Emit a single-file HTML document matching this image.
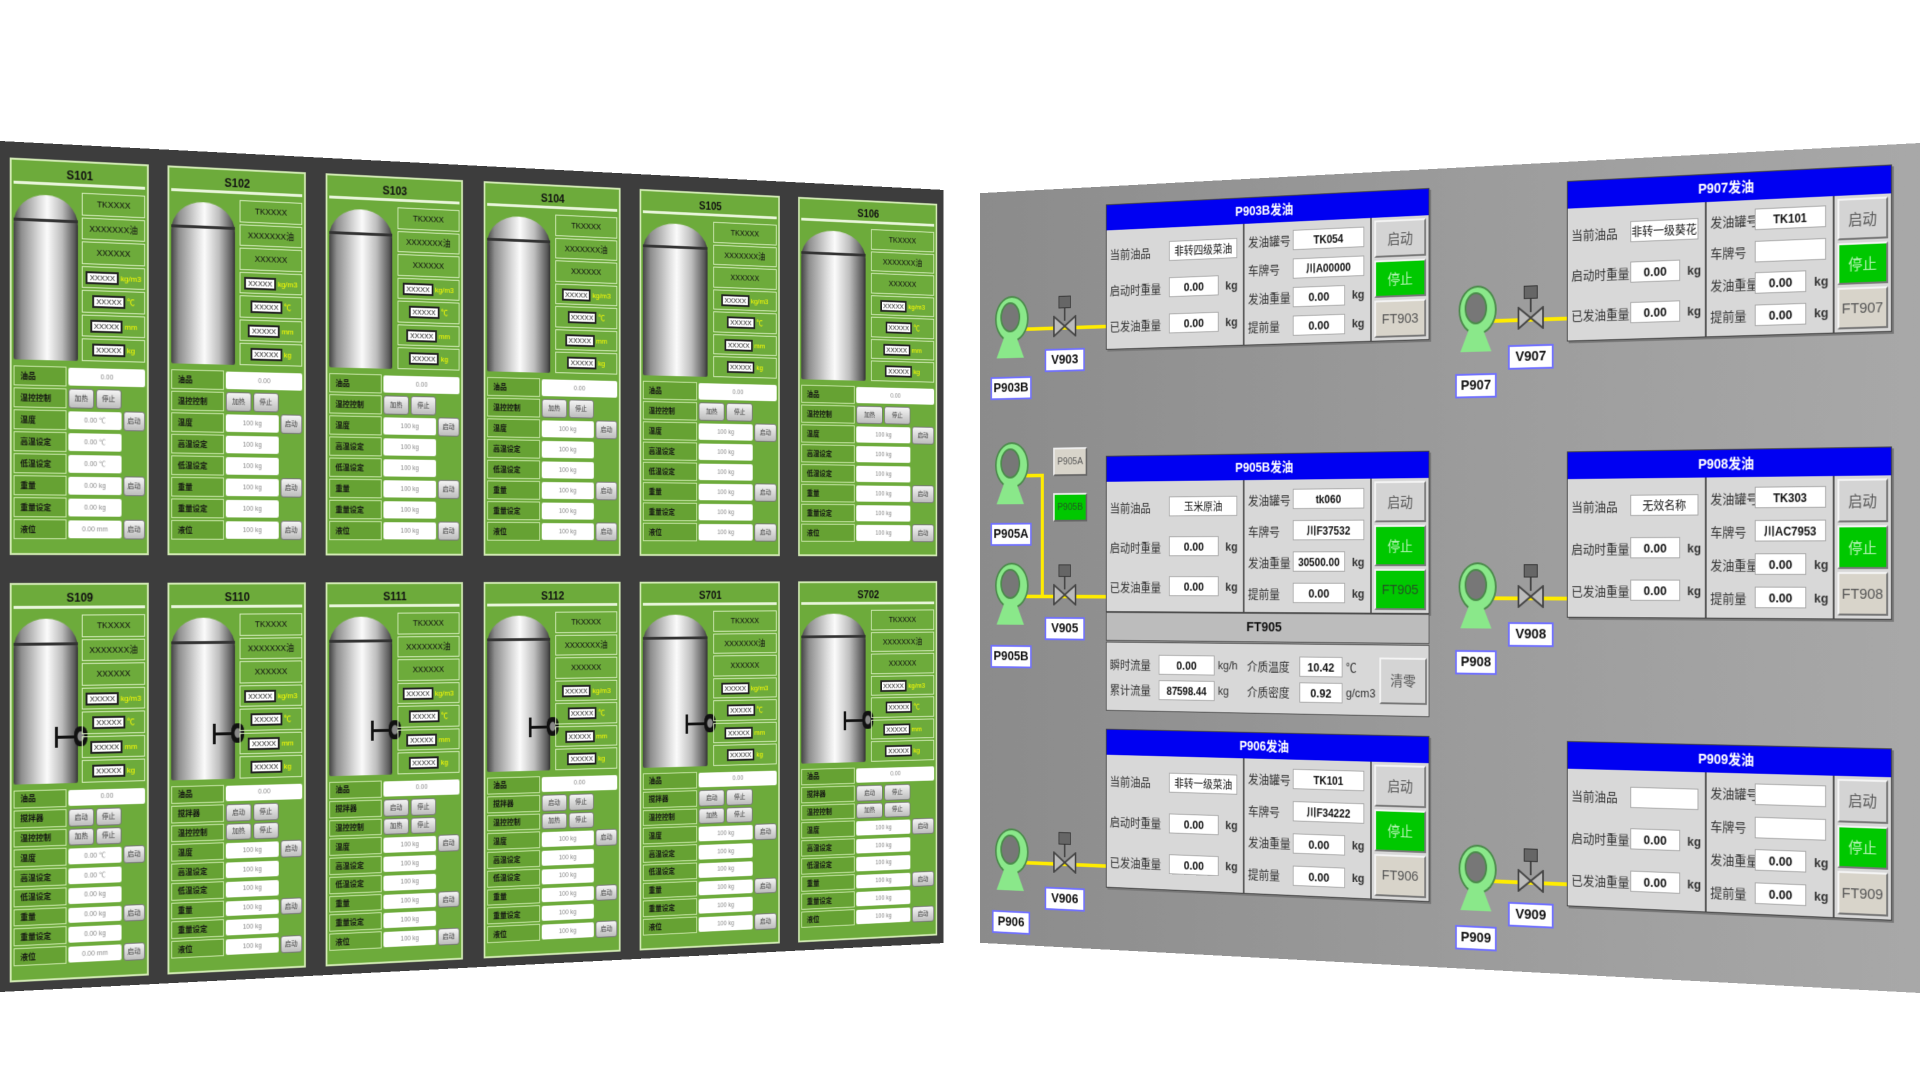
<!DOCTYPE html>
<html><head><meta charset="utf-8">
<style>
*{box-sizing:border-box}
body{margin:0;width:1920px;height:1080px;background:#fff;overflow:hidden;font-family:"Liberation Sans","Noto Sans CJK SC",sans-serif;position:relative}
#L{position:absolute;left:0;top:141px;width:1097px;height:851px;background:#3d3d3d;transform-origin:0 50%;transform:perspective(2000px) rotateY(13.7deg)}
#R{position:absolute;left:821px;top:143px;width:1099px;height:850px;background:linear-gradient(90deg,#8b8b8b,#9a9a9a 50%,#a8a8a8);transform-origin:100% 50%;transform:perspective(2000px) rotateY(-14.1deg)}
.gp{position:absolute;height:398px;background:#6dab3b;border:2px solid #d2eab4}
.gp.b{height:400px}
.tt{position:absolute;left:2px;right:2px;top:2px;height:22px;border-bottom:3px solid #e8f5da;font-weight:bold;font-size:12px;color:#111;text-align:center;line-height:22px}
.up{position:absolute;left:0;right:0;top:28px;height:176px}
.tank{position:absolute;left:2px;top:6px;width:47%;height:166px;border-radius:50% 50% 2px 2px/18% 18% 2px 2px;background:linear-gradient(90deg,#444,#8e8e8e 12%,#dcdcdc 40%,#fbfbfb 52%,#bdbdbd 75%,#5a5a5a 95%,#333)}
.tank:before{content:"";position:absolute;left:0;right:0;top:24px;height:3px;background:#333}
.mx{position:absolute;left:32%;top:124px;width:15%;height:3px;background:#111}
.mx:before{content:"";position:absolute;left:0;top:-9px;width:3px;height:21px;background:#111}
.mx:after{content:"";position:absolute;right:-12px;top:-9px;width:14px;height:20px;border-radius:40%;background:radial-gradient(#888 30%,#111 40%)}
.rc{position:absolute;right:2px;top:2px;width:47%;bottom:2px;display:flex;flex-direction:column}
.rc>div{flex:1;border:1px solid #d6edbd;margin-bottom:2px;font-size:9px;color:#111;display:flex;align-items:center;justify-content:center;white-space:nowrap;overflow:hidden}
.rc span{background:#fff;border:2px solid #222;font-size:8px;padding:0 2px;margin-right:2px}
.rc i{color:#ff0;font-style:normal;font-size:8px}
.lo{position:absolute;left:2px;right:2px;top:206px;bottom:12px;display:flex;flex-direction:column}
.r{flex:1;display:flex;margin-bottom:2px;gap:2px}
.r b{width:40%;background:#66a233;border:1px solid #c9e6a8;font-size:8px;color:#111;display:flex;align-items:center;padding-left:6px;white-space:nowrap;overflow:hidden}
.r u{flex:1;background:#fff;margin:1px 0;border-radius:2px;font-size:7px;color:#888;text-decoration:none;display:flex;align-items:center;justify-content:space-around}
.r u.x{margin-right:0}
.r em{flex:1;display:flex;gap:2px;font-style:normal}
.r em a,.r s.k{background:linear-gradient(#f4f4f4,#bdbdbd);border:1px solid #777;border-radius:3px;font-size:7px;color:#333;display:flex;align-items:center;justify-content:center;text-decoration:none}
.r em a{flex:1}
.r s{width:17%;text-decoration:none}
.blk{position:absolute;background:#d8d8d8;border:1px solid #444;box-shadow:2px 2px 0 #777;font-size:13px;color:#333}
.bt{height:28px;background:#0000f2;color:#fff;font-weight:bold;font-size:14px;text-align:center;line-height:28px}
.bb{display:flex;height:calc(100% - 28px)}
.c1{width:44%;border-right:2px solid #555;padding:6px 4px;display:flex;flex-direction:column;justify-content:space-around}
.c2{width:39%;border-right:2px solid #555;padding:4px 4px;display:flex;flex-direction:column;justify-content:space-around}
.c3{flex:1;display:flex;flex-direction:column;padding:3px;gap:3px}
.blk p{margin:0;display:flex;align-items:center;white-space:nowrap}
.c1 em{width:46%;font-style:normal}
.c2 em{width:38%;font-style:normal}
.f{background:#fff;border:1px solid #aaa;height:22px;line-height:22px;text-align:center;font-weight:bold;color:#111;width:38%;overflow:hidden}
.c2 .f{width:44%}
.f.w{flex:1;font-weight:normal;width:auto;margin-right:3px;font-size:12px}
.c2 .f.w{font-weight:bold}
.blk i{font-style:normal;margin-left:8px;font-weight:bold}
.bn{flex:1;background:#d4d4d4;border:2px solid;border-color:#f4f4f4 #777 #777 #f4f4f4;display:flex;align-items:center;justify-content:center;color:#555;font-size:15px}
.bn.g{background:#00c800;color:#b8f5b8}
.bn.t{background:#d8d4ca}
.fth{position:absolute;background:#bcbcbc;border:1px solid #555;font-weight:bold;font-size:15px;text-align:center;line-height:30px;color:#111}
.ftb{position:absolute;background:#d8d8d8;border:1px solid #555;font-size:13px;color:#333;display:flex;align-items:center;padding:4px}
.ftb .g2{flex:1;display:grid;grid-template-columns:62px 74px 36px 64px 56px 40px;row-gap:6px;align-items:center}
.ftb .f{width:auto;margin-right:4px}
.ftb .bn{flex:0 0 56px;height:50px}
.pump{position:absolute;width:40px;height:72px}
.pump:before{content:"";position:absolute;left:0;top:0;width:40px;height:48px;border-radius:50%;background:#8ae88a;border:2px solid #4a8a4a}
.pump .c{position:absolute;left:7px;top:7px;width:26px;height:34px;border-radius:50%;background:#777;border:2px solid #4a8a4a;z-index:1}
.pump:after{content:"";position:absolute;left:2px;top:44px;width:36px;height:26px;background:#8ae88a;clip-path:polygon(30% 0,70% 0,100% 100%,0 100%)}
.lab{position:absolute;height:26px;background:#fff;border:2px solid #7070ff;font-weight:bold;font-size:15px;color:#111;text-align:center;line-height:22px;width:52px}
.pipe{position:absolute;background:#ffec00;height:4px}
.vpipe{position:absolute;background:#ffec00;width:4px}
.valve{position:absolute;width:30px;height:46px}
.valve .a{position:absolute;left:7px;top:0;width:16px;height:14px;background:#666;border:1px solid #333}
.valve .s{position:absolute;left:14px;top:14px;width:2px;height:14px;background:#444}
.valve svg{position:absolute;left:0;top:22px}
.sel{position:absolute;width:44px;height:32px;border:2px solid;border-color:#eee #666 #666 #eee;font-size:11px;color:#555;display:flex;align-items:center;justify-content:center;background:#d8d4ca}
.sel.g{background:#00c800;color:#225522}
</style></head><body>

<div id="L">
<div class="gp" style="left:10px;top:16px;width:146px"><div class="tt">S101</div><div class="up"><div class="tank"></div><div class="rc"><div>TKXXXX</div><div>XXXXXXX油</div><div>XXXXXX</div><div><span>XXXXX</span><i>kg/m3</i></div><div><span>XXXXX</span><i>℃</i></div><div><span>XXXXX</span><i>mm</i></div><div><span>XXXXX</span><i>kg</i></div></div></div><div class="lo"><div class="r"><b>油品</b><u class="x">0.00</u></div><div class="r"><b>温控控制</b><em><a>加热</a><a>停止</a></em><s></s></div><div class="r"><b>温度</b><u>0.00 ℃</u><s class="k">启动</s></div><div class="r"><b>高温设定</b><u>0.00 ℃</u><s></s></div><div class="r"><b>低温设定</b><u>0.00 ℃</u><s></s></div><div class="r"><b>重量</b><u>0.00 kg</u><s class="k">启动</s></div><div class="r"><b>重量设定</b><u>0.00 kg</u><s></s></div><div class="r"><b>液位</b><u>0.00 mm</u><s class="k">启动</s></div></div></div>

<div class="gp" style="left:176px;top:16px;width:151px"><div class="tt">S102</div><div class="up"><div class="tank"></div><div class="rc"><div>TKXXXX</div><div>XXXXXXX油</div><div>XXXXXX</div><div><span>XXXXX</span><i>kg/m3</i></div><div><span>XXXXX</span><i>℃</i></div><div><span>XXXXX</span><i>mm</i></div><div><span>XXXXX</span><i>kg</i></div></div></div><div class="lo"><div class="r"><b>油品</b><u class="x">0.00</u></div><div class="r"><b>温控控制</b><em><a>加热</a><a>停止</a></em><s></s></div><div class="r"><b>温度</b><u>100 kg</u><s class="k">启动</s></div><div class="r"><b>高温设定</b><u>100 kg</u><s></s></div><div class="r"><b>低温设定</b><u>100 kg</u><s></s></div><div class="r"><b>重量</b><u>100 kg</u><s class="k">启动</s></div><div class="r"><b>重量设定</b><u>100 kg</u><s></s></div><div class="r"><b>液位</b><u>100 kg</u><s class="k">启动</s></div></div></div>

<div class="gp" style="left:349px;top:16px;width:156px"><div class="tt">S103</div><div class="up"><div class="tank"></div><div class="rc"><div>TKXXXX</div><div>XXXXXXX油</div><div>XXXXXX</div><div><span>XXXXX</span><i>kg/m3</i></div><div><span>XXXXX</span><i>℃</i></div><div><span>XXXXX</span><i>mm</i></div><div><span>XXXXX</span><i>kg</i></div></div></div><div class="lo"><div class="r"><b>油品</b><u class="x">0.00</u></div><div class="r"><b>温控控制</b><em><a>加热</a><a>停止</a></em><s></s></div><div class="r"><b>温度</b><u>100 kg</u><s class="k">启动</s></div><div class="r"><b>高温设定</b><u>100 kg</u><s></s></div><div class="r"><b>低温设定</b><u>100 kg</u><s></s></div><div class="r"><b>重量</b><u>100 kg</u><s class="k">启动</s></div><div class="r"><b>重量设定</b><u>100 kg</u><s></s></div><div class="r"><b>液位</b><u>100 kg</u><s class="k">启动</s></div></div></div>

<div class="gp" style="left:529px;top:16px;width:162px"><div class="tt">S104</div><div class="up"><div class="tank"></div><div class="rc"><div>TKXXXX</div><div>XXXXXXX油</div><div>XXXXXX</div><div><span>XXXXX</span><i>kg/m3</i></div><div><span>XXXXX</span><i>℃</i></div><div><span>XXXXX</span><i>mm</i></div><div><span>XXXXX</span><i>kg</i></div></div></div><div class="lo"><div class="r"><b>油品</b><u class="x">0.00</u></div><div class="r"><b>温控控制</b><em><a>加热</a><a>停止</a></em><s></s></div><div class="r"><b>温度</b><u>100 kg</u><s class="k">启动</s></div><div class="r"><b>高温设定</b><u>100 kg</u><s></s></div><div class="r"><b>低温设定</b><u>100 kg</u><s></s></div><div class="r"><b>重量</b><u>100 kg</u><s class="k">启动</s></div><div class="r"><b>重量设定</b><u>100 kg</u><s></s></div><div class="r"><b>液位</b><u>100 kg</u><s class="k">启动</s></div></div></div>

<div class="gp" style="left:714px;top:16px;width:173px"><div class="tt">S105</div><div class="up"><div class="tank"></div><div class="rc"><div>TKXXXX</div><div>XXXXXXX油</div><div>XXXXXX</div><div><span>XXXXX</span><i>kg/m3</i></div><div><span>XXXXX</span><i>℃</i></div><div><span>XXXXX</span><i>mm</i></div><div><span>XXXXX</span><i>kg</i></div></div></div><div class="lo"><div class="r"><b>油品</b><u class="x">0.00</u></div><div class="r"><b>温控控制</b><em><a>加热</a><a>停止</a></em><s></s></div><div class="r"><b>温度</b><u>100 kg</u><s class="k">启动</s></div><div class="r"><b>高温设定</b><u>100 kg</u><s></s></div><div class="r"><b>低温设定</b><u>100 kg</u><s></s></div><div class="r"><b>重量</b><u>100 kg</u><s class="k">启动</s></div><div class="r"><b>重量设定</b><u>100 kg</u><s></s></div><div class="r"><b>液位</b><u>100 kg</u><s class="k">启动</s></div></div></div>

<div class="gp" style="left:910px;top:16px;width:179px"><div class="tt">S106</div><div class="up"><div class="tank"></div><div class="rc"><div>TKXXXX</div><div>XXXXXXX油</div><div>XXXXXX</div><div><span>XXXXX</span><i>kg/m3</i></div><div><span>XXXXX</span><i>℃</i></div><div><span>XXXXX</span><i>mm</i></div><div><span>XXXXX</span><i>kg</i></div></div></div><div class="lo"><div class="r"><b>油品</b><u class="x">0.00</u></div><div class="r"><b>温控控制</b><em><a>加热</a><a>停止</a></em><s></s></div><div class="r"><b>温度</b><u>100 kg</u><s class="k">启动</s></div><div class="r"><b>高温设定</b><u>100 kg</u><s></s></div><div class="r"><b>低温设定</b><u>100 kg</u><s></s></div><div class="r"><b>重量</b><u>100 kg</u><s class="k">启动</s></div><div class="r"><b>重量设定</b><u>100 kg</u><s></s></div><div class="r"><b>液位</b><u>100 kg</u><s class="k">启动</s></div></div></div>

<div class="gp b" style="left:10px;top:442px;width:146px"><div class="tt">S109</div><div class="up"><div class="tank"></div><div class="mx"></div><div class="rc"><div>TKXXXX</div><div>XXXXXXX油</div><div>XXXXXX</div><div><span>XXXXX</span><i>kg/m3</i></div><div><span>XXXXX</span><i>℃</i></div><div><span>XXXXX</span><i>mm</i></div><div><span>XXXXX</span><i>kg</i></div></div></div><div class="lo"><div class="r"><b>油品</b><u class="x">0.00</u></div><div class="r"><b>搅拌器</b><em><a>启动</a><a>停止</a></em><s></s></div><div class="r"><b>温控控制</b><em><a>加热</a><a>停止</a></em><s></s></div><div class="r"><b>温度</b><u>0.00 ℃</u><s class="k">启动</s></div><div class="r"><b>高温设定</b><u>0.00 ℃</u><s></s></div><div class="r"><b>低温设定</b><u>0.00 kg</u><s></s></div><div class="r"><b>重量</b><u>0.00 kg</u><s class="k">启动</s></div><div class="r"><b>重量设定</b><u>0.00 kg</u><s></s></div><div class="r"><b>液位</b><u>0.00 mm</u><s class="k">启动</s></div></div></div>

<div class="gp b" style="left:176px;top:442px;width:151px"><div class="tt">S110</div><div class="up"><div class="tank"></div><div class="mx"></div><div class="rc"><div>TKXXXX</div><div>XXXXXXX油</div><div>XXXXXX</div><div><span>XXXXX</span><i>kg/m3</i></div><div><span>XXXXX</span><i>℃</i></div><div><span>XXXXX</span><i>mm</i></div><div><span>XXXXX</span><i>kg</i></div></div></div><div class="lo"><div class="r"><b>油品</b><u class="x">0.00</u></div><div class="r"><b>搅拌器</b><em><a>启动</a><a>停止</a></em><s></s></div><div class="r"><b>温控控制</b><em><a>加热</a><a>停止</a></em><s></s></div><div class="r"><b>温度</b><u>100 kg</u><s class="k">启动</s></div><div class="r"><b>高温设定</b><u>100 kg</u><s></s></div><div class="r"><b>低温设定</b><u>100 kg</u><s></s></div><div class="r"><b>重量</b><u>100 kg</u><s class="k">启动</s></div><div class="r"><b>重量设定</b><u>100 kg</u><s></s></div><div class="r"><b>液位</b><u>100 kg</u><s class="k">启动</s></div></div></div>

<div class="gp b" style="left:349px;top:442px;width:156px"><div class="tt">S111</div><div class="up"><div class="tank"></div><div class="mx"></div><div class="rc"><div>TKXXXX</div><div>XXXXXXX油</div><div>XXXXXX</div><div><span>XXXXX</span><i>kg/m3</i></div><div><span>XXXXX</span><i>℃</i></div><div><span>XXXXX</span><i>mm</i></div><div><span>XXXXX</span><i>kg</i></div></div></div><div class="lo"><div class="r"><b>油品</b><u class="x">0.00</u></div><div class="r"><b>搅拌器</b><em><a>启动</a><a>停止</a></em><s></s></div><div class="r"><b>温控控制</b><em><a>加热</a><a>停止</a></em><s></s></div><div class="r"><b>温度</b><u>100 kg</u><s class="k">启动</s></div><div class="r"><b>高温设定</b><u>100 kg</u><s></s></div><div class="r"><b>低温设定</b><u>100 kg</u><s></s></div><div class="r"><b>重量</b><u>100 kg</u><s class="k">启动</s></div><div class="r"><b>重量设定</b><u>100 kg</u><s></s></div><div class="r"><b>液位</b><u>100 kg</u><s class="k">启动</s></div></div></div>

<div class="gp b" style="left:529px;top:442px;width:162px"><div class="tt">S112</div><div class="up"><div class="tank"></div><div class="mx"></div><div class="rc"><div>TKXXXX</div><div>XXXXXXX油</div><div>XXXXXX</div><div><span>XXXXX</span><i>kg/m3</i></div><div><span>XXXXX</span><i>℃</i></div><div><span>XXXXX</span><i>mm</i></div><div><span>XXXXX</span><i>kg</i></div></div></div><div class="lo"><div class="r"><b>油品</b><u class="x">0.00</u></div><div class="r"><b>搅拌器</b><em><a>启动</a><a>停止</a></em><s></s></div><div class="r"><b>温控控制</b><em><a>加热</a><a>停止</a></em><s></s></div><div class="r"><b>温度</b><u>100 kg</u><s class="k">启动</s></div><div class="r"><b>高温设定</b><u>100 kg</u><s></s></div><div class="r"><b>低温设定</b><u>100 kg</u><s></s></div><div class="r"><b>重量</b><u>100 kg</u><s class="k">启动</s></div><div class="r"><b>重量设定</b><u>100 kg</u><s></s></div><div class="r"><b>液位</b><u>100 kg</u><s class="k">启动</s></div></div></div>

<div class="gp b" style="left:714px;top:442px;width:173px"><div class="tt">S701</div><div class="up"><div class="tank"></div><div class="mx"></div><div class="rc"><div>TKXXXX</div><div>XXXXXXX油</div><div>XXXXXX</div><div><span>XXXXX</span><i>kg/m3</i></div><div><span>XXXXX</span><i>℃</i></div><div><span>XXXXX</span><i>mm</i></div><div><span>XXXXX</span><i>kg</i></div></div></div><div class="lo"><div class="r"><b>油品</b><u class="x">0.00</u></div><div class="r"><b>搅拌器</b><em><a>启动</a><a>停止</a></em><s></s></div><div class="r"><b>温控控制</b><em><a>加热</a><a>停止</a></em><s></s></div><div class="r"><b>温度</b><u>100 kg</u><s class="k">启动</s></div><div class="r"><b>高温设定</b><u>100 kg</u><s></s></div><div class="r"><b>低温设定</b><u>100 kg</u><s></s></div><div class="r"><b>重量</b><u>100 kg</u><s class="k">启动</s></div><div class="r"><b>重量设定</b><u>100 kg</u><s></s></div><div class="r"><b>液位</b><u>100 kg</u><s class="k">启动</s></div></div></div>

<div class="gp b" style="left:910px;top:442px;width:179px"><div class="tt">S702</div><div class="up"><div class="tank"></div><div class="mx"></div><div class="rc"><div>TKXXXX</div><div>XXXXXXX油</div><div>XXXXXX</div><div><span>XXXXX</span><i>kg/m3</i></div><div><span>XXXXX</span><i>℃</i></div><div><span>XXXXX</span><i>mm</i></div><div><span>XXXXX</span><i>kg</i></div></div></div><div class="lo"><div class="r"><b>油品</b><u class="x">0.00</u></div><div class="r"><b>搅拌器</b><em><a>启动</a><a>停止</a></em><s></s></div><div class="r"><b>温控控制</b><em><a>加热</a><a>停止</a></em><s></s></div><div class="r"><b>温度</b><u>100 kg</u><s class="k">启动</s></div><div class="r"><b>高温设定</b><u>100 kg</u><s></s></div><div class="r"><b>低温设定</b><u>100 kg</u><s></s></div><div class="r"><b>重量</b><u>100 kg</u><s class="k">启动</s></div><div class="r"><b>重量设定</b><u>100 kg</u><s></s></div><div class="r"><b>液位</b><u>100 kg</u><s class="k">启动</s></div></div></div>
</div>

<div id="R">
<div class="pipe" style="left:58px;top:154px;width:106px"></div>
<div class="pipe" style="left:58px;top:319px;width:26px"></div>
<div class="vpipe" style="left:80px;top:319px;height:140px"></div>
<div class="pipe" style="left:58px;top:455px;width:106px"></div>
<div class="pipe" style="left:58px;top:755px;width:106px"></div>
<div class="pipe" style="left:632px;top:162px;width:86px"></div>
<div class="pipe" style="left:632px;top:455px;width:86px"></div>
<div class="pipe" style="left:632px;top:754px;width:86px"></div>

<div class="pump" style="left:20px;top:118px"><div class="c"></div></div>
<div class="pump" style="left:20px;top:283px"><div class="c"></div></div>
<div class="pump" style="left:20px;top:419px"><div class="c"></div></div>
<div class="pump" style="left:20px;top:719px"><div class="c"></div></div>
<div class="pump" style="left:594px;top:126px"><div class="c"></div></div>
<div class="pump" style="left:594px;top:419px"><div class="c"></div></div>
<div class="pump" style="left:594px;top:718px"><div class="c"></div></div>

<div class="lab" style="left:14px;top:209px;width:54px">P903B</div>
<div class="lab" style="left:14px;top:374px;width:54px">P905A</div>
<div class="lab" style="left:14px;top:512px;width:54px">P905B</div>
<div class="lab" style="left:16px;top:812px;width:50px">P906</div>
<div class="lab" style="left:590px;top:219px;width:48px">P907</div>
<div class="lab" style="left:590px;top:512px;width:48px">P908</div>
<div class="lab" style="left:590px;top:804px;width:48px">P909</div>

<div class="valve" style="left:96px;top:120px"><div class="a"></div><div class="s"></div><svg width="30" height="24"><polygon points="1,1 15,12 1,23" fill="#bbb" stroke="#444" stroke-width="2"/><polygon points="29,1 15,12 29,23" fill="#bbb" stroke="#444" stroke-width="2"/></svg></div>
<div class="valve" style="left:96px;top:421px"><div class="a"></div><div class="s"></div><svg width="30" height="24"><polygon points="1,1 15,12 1,23" fill="#bbb" stroke="#444" stroke-width="2"/><polygon points="29,1 15,12 29,23" fill="#bbb" stroke="#444" stroke-width="2"/></svg></div>
<div class="valve" style="left:96px;top:721px"><div class="a"></div><div class="s"></div><svg width="30" height="24"><polygon points="1,1 15,12 1,23" fill="#bbb" stroke="#444" stroke-width="2"/><polygon points="29,1 15,12 29,23" fill="#bbb" stroke="#444" stroke-width="2"/></svg></div>
<div class="valve" style="left:662px;top:128px"><div class="a"></div><div class="s"></div><svg width="30" height="24"><polygon points="1,1 15,12 1,23" fill="#bbb" stroke="#444" stroke-width="2"/><polygon points="29,1 15,12 29,23" fill="#bbb" stroke="#444" stroke-width="2"/></svg></div>
<div class="valve" style="left:662px;top:421px"><div class="a"></div><div class="s"></div><svg width="30" height="24"><polygon points="1,1 15,12 1,23" fill="#bbb" stroke="#444" stroke-width="2"/><polygon points="29,1 15,12 29,23" fill="#bbb" stroke="#444" stroke-width="2"/></svg></div>
<div class="valve" style="left:662px;top:720px"><div class="a"></div><div class="s"></div><svg width="30" height="24"><polygon points="1,1 15,12 1,23" fill="#bbb" stroke="#444" stroke-width="2"/><polygon points="29,1 15,12 29,23" fill="#bbb" stroke="#444" stroke-width="2"/></svg></div>

<div class="lab" style="left:85px;top:179px">V903</div>
<div class="lab" style="left:85px;top:480px">V905</div>
<div class="lab" style="left:85px;top:783px">V906</div>
<div class="lab" style="left:651px;top:190px">V907</div>
<div class="lab" style="left:651px;top:482px">V908</div>
<div class="lab" style="left:651px;top:777px">V909</div>

<div class="sel" style="left:96px;top:290px">P905A</div>
<div class="sel g" style="left:96px;top:341px">P905B</div>

<div class="blk" style="left:164px;top:20px;width:396px;height:162px"><div class="bt">P903B发油</div><div class="bb"><div class="c1"><p><em>当前油品</em><span class="f w">非转四级菜油</span></p><p><em>启动时重量</em><span class="f">0.00</span><i>kg</i></p><p><em>已发油重量</em><span class="f">0.00</span><i>kg</i></p></div><div class="c2"><p><em>发油罐号</em><span class="f w">TK054</span></p><p><em>车牌号</em><span class="f w">川A00000</span></p><p><em>发油重量</em><span class="f">0.00</span><i>kg</i></p><p><em>提前量</em><span class="f">0.00</span><i>kg</i></p></div><div class="c3"><div class="bn">启动</div><div class="bn g">停止</div><div class="bn t">FT903</div></div></div></div>

<div class="blk" style="left:718px;top:20px;width:352px;height:168px"><div class="bt">P907发油</div><div class="bb"><div class="c1"><p><em>当前油品</em><span class="f w">非转一级葵花油</span></p><p><em>启动时重量</em><span class="f">0.00</span><i>kg</i></p><p><em>已发油重量</em><span class="f">0.00</span><i>kg</i></p></div><div class="c2"><p><em>发油罐号</em><span class="f w">TK101</span></p><p><em>车牌号</em><span class="f w"></span></p><p><em>发油重量</em><span class="f">0.00</span><i>kg</i></p><p><em>提前量</em><span class="f">0.00</span><i>kg</i></p></div><div class="c3"><div class="bn">启动</div><div class="bn g">停止</div><div class="bn t">FT907</div></div></div></div>

<div class="blk" style="left:164px;top:300px;width:396px;height:174px"><div class="bt">P905B发油</div><div class="bb"><div class="c1"><p><em>当前油品</em><span class="f w">玉米原油</span></p><p><em>启动时重量</em><span class="f">0.00</span><i>kg</i></p><p><em>已发油重量</em><span class="f">0.00</span><i>kg</i></p></div><div class="c2"><p><em>发油罐号</em><span class="f w">tk060</span></p><p><em>车牌号</em><span class="f w">川F37532</span></p><p><em>发油重量</em><span class="f" style="font-size:12px">30500.00</span><i>kg</i></p><p><em>提前量</em><span class="f">0.00</span><i>kg</i></p></div><div class="c3"><div class="bn">启动</div><div class="bn g">停止</div><div class="bn g" style="color:#225522">FT905</div></div></div></div>

<div class="fth" style="left:164px;top:474px;width:396px;height:32px">FT905</div>
<div class="ftb" style="left:164px;top:507px;width:396px;height:77px"><div class="g2"><span>瞬时流量</span><span class="f">0.00</span><span>kg/h</span><span>介质温度</span><span class="f">10.42</span><span>℃</span><span>累计流量</span><span class="f" style="font-size:12px">87598.44</span><span>kg</span><span>介质密度</span><span class="f">0.92</span><span>g/cm3</span></div><div class="bn">清零</div></div>

<div class="blk" style="left:718px;top:303px;width:352px;height:174px"><div class="bt">P908发油</div><div class="bb"><div class="c1"><p><em>当前油品</em><span class="f w">无效名称</span></p><p><em>启动时重量</em><span class="f">0.00</span><i>kg</i></p><p><em>已发油重量</em><span class="f">0.00</span><i>kg</i></p></div><div class="c2"><p><em>发油罐号</em><span class="f w">TK303</span></p><p><em>车牌号</em><span class="f w">川AC7953</span></p><p><em>发油重量</em><span class="f">0.00</span><i>kg</i></p><p><em>提前量</em><span class="f">0.00</span><i>kg</i></p></div><div class="c3"><div class="bn">启动</div><div class="bn g">停止</div><div class="bn t">FT908</div></div></div></div>

<div class="blk" style="left:164px;top:604px;width:396px;height:177px"><div class="bt">P906发油</div><div class="bb"><div class="c1"><p><em>当前油品</em><span class="f w">非转一级菜油</span></p><p><em>启动时重量</em><span class="f">0.00</span><i>kg</i></p><p><em>已发油重量</em><span class="f">0.00</span><i>kg</i></p></div><div class="c2"><p><em>发油罐号</em><span class="f w">TK101</span></p><p><em>车牌号</em><span class="f w">川F34222</span></p><p><em>发油重量</em><span class="f">0.00</span><i>kg</i></p><p><em>提前量</em><span class="f">0.00</span><i>kg</i></p></div><div class="c3"><div class="bn">启动</div><div class="bn g">停止</div><div class="bn t">FT906</div></div></div></div>

<div class="blk" style="left:718px;top:606px;width:352px;height:173px"><div class="bt">P909发油</div><div class="bb"><div class="c1"><p><em>当前油品</em><span class="f w"></span></p><p><em>启动时重量</em><span class="f">0.00</span><i>kg</i></p><p><em>已发油重量</em><span class="f">0.00</span><i>kg</i></p></div><div class="c2"><p><em>发油罐号</em><span class="f w"></span></p><p><em>车牌号</em><span class="f w"></span></p><p><em>发油重量</em><span class="f">0.00</span><i>kg</i></p><p><em>提前量</em><span class="f">0.00</span><i>kg</i></p></div><div class="c3"><div class="bn">启动</div><div class="bn g">停止</div><div class="bn t">FT909</div></div></div></div>
</div>
</body></html>
